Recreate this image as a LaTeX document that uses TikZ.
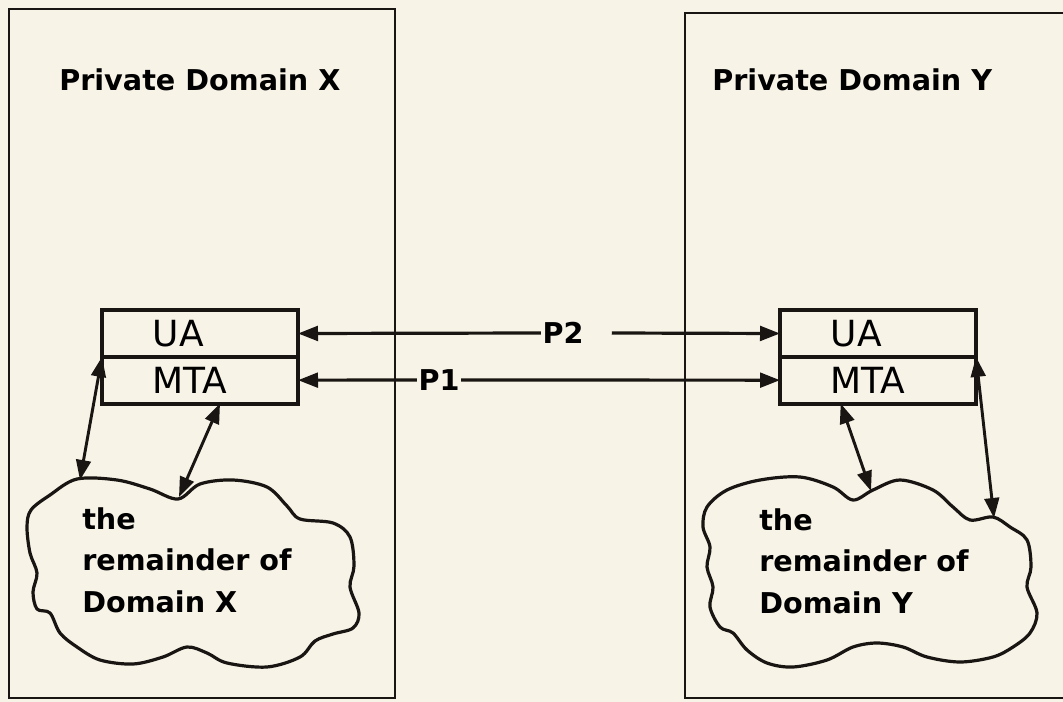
\documentclass[tikz,border=0pt]{standalone}
\usepackage{fontspec}
\setmainfont{DejaVu Sans}
\usetikzlibrary{arrows.meta,positioning}

\definecolor{paper}{RGB}{248,243,231}
\definecolor{ink}{RGB}{24,21,19}

\tikzset{
  domainbox/.style={draw=ink, line width=2.2pt},
  agent/.style={draw=ink, line width=3pt, outer sep=0pt, inner xsep=38pt, inner ysep=0pt,
    text width=71pt, align=left, minimum height=35pt, font=\fontsize{27}{27}\selectfont},
  domtitle/.style={inner sep=0pt, anchor=west, font=\fontsize{21.5}{21.5}\selectfont\bfseries},
  plabel/.style={inner sep=1pt, font=\fontsize{21.5}{21.5}\selectfont\bfseries},
  restcloud/.style={draw=ink, line width=2.4pt, line join=round},
  resttext/.style={inner sep=0pt, anchor=west, align=left,
    font=\fontsize{21.5}{31}\selectfont\bfseries},
  hd/.tip={Triangle[length=15pt,width=11pt]},
  link/.style={draw=ink, line width=2.2pt, hd-hd},
  pline/.style={draw=ink, line width=2.4pt, -hd},
}

\begin{document}
\begin{tikzpicture}[x=0.75pt, y=-0.75pt]
    % paper
    \fill[paper] (0,0) rectangle (1063,702);
    \clip (0,0) rectangle (1063,702);

    % the two private domains
    \draw[domainbox] (9,9) rectangle (395,698);
    \draw[domainbox] (685,13) rectangle (1090,698);
    \node[domtitle] (titleX) at (59,80) {Private Domain X};
    \node[domtitle] (titleY) at (712,80) {Private Domain Y};

    % UA over MTA in each domain
    \node[agent] (uaX) at (200,333.5) {UA};
    \node[agent, below=0pt of uaX] (mtaX) {MTA};
    \node[agent] (uaY) at (878,333.5) {UA};
    \node[agent, below=0pt of uaY] (mtaY) {MTA};

    % the rest of each domain
    \draw[restcloud] plot[smooth cycle, tension=0.55] coordinates {
      (50,495) (77,479) (117,480) (150,489) (178,499) (200,484) (233,480) (267,487)
      (287,506) (300,519) (333,523) (350,537) (354,566) (350,587) (359,613) (353,628)
      (333,634) (315,641) (300,657) (267,667) (227,663) (207,653) (187,647) (163,657)
      (133,664) (100,660) (77,647) (60,633) (50,613) (37,609) (33,592) (37,573)
      (30,553) (27,527) (31,510)};
    \draw[restcloud] plot[smooth cycle, tension=0.55] coordinates {
      (727,490) (760,480) (800,477) (833,487) (853,500) (873,490) (900,480) (933,490)
      (953,507) (970,520) (993,517) (1010,527) (1027,540) (1031,567) (1027,587)
      (1037,613) (1030,633) (1013,647) (993,657) (960,662) (927,657) (903,647)
      (877,643) (853,647) (827,660) (793,667) (767,663) (747,650) (733,633) (720,627)
      (710,607) (713,587) (707,567) (710,547) (703,527) (707,507)};
    \coordinate (edgeXa) at (80,480);
    \coordinate (edgeXb) at (179,497);
    \coordinate (edgeYa) at (871,491);
    \coordinate (edgeYb) at (994,518);
    \node[resttext] (remX) at (82,560) {the\\remainder of\\Domain X};
    \node[resttext] (remY) at (759,561) {the\\remainder of\\Domain Y};

    % P2 and P1 between the domains
    \node[plabel] (p2) at (563,333) {P2};
    \node[plabel] (p1) at (439,380) {P1};
    \draw[pline] (p2.west) -- (uaX.east);
    \draw[pline] ([xshift=20pt]p2.east) -- (uaY.west);
    \draw[pline] (p1.west) -- (mtaX.east);
    \draw[pline] (p1.east) -- (mtaY.west);

    % inside each domain
    \draw[link] (uaX.south west) -- (edgeXa);
    \draw[link] ([xshift=15pt]mtaX.south) -- (edgeXb);
    \draw[link] ([xshift=-28pt]mtaY.south) -- (edgeYa);
    \draw[link] (uaY.south east) -- (edgeYb);
\end{tikzpicture}
\end{document}
